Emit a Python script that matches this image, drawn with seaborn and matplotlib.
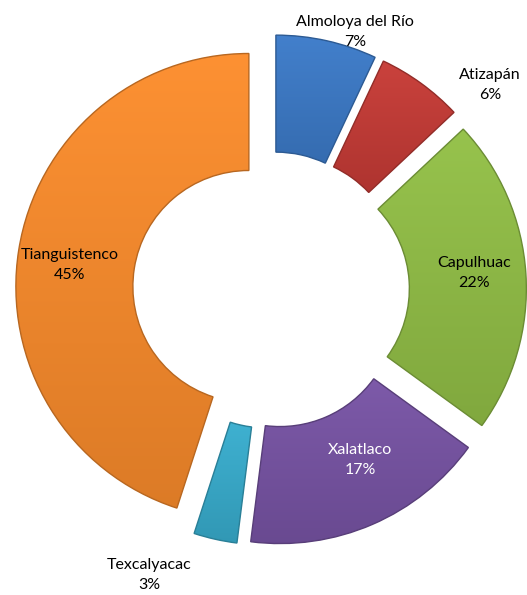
import numpy as np
import matplotlib
matplotlib.use("Agg")
import matplotlib.pyplot as plt
import matplotlib.colors as mcolors
import seaborn as sns

# data
municipios = ["Almoloya del Río", "Atizapán", "Capulhuac", "Xalatlaco", "Texcalyacac", "Tianguistenco"]
porcentajes = [7, 6, 22, 17, 3, 45]
colores = ["#3b78c4", "#c23a35", "#8fbb45", "#7552a1", "#37a9c9", "#f5892b"]
text_colors = ["black", "black", "black", "white", "black", "black"]

# label anchor points (pixel coords, image y down)
label_x = [355, 490, 474, 360, 149, 70]
label_y = [32, 85, 273, 460, 575, 265]

sns.set_theme(style="white")
plt.rcParams["font.family"] = ["Lato", "DejaVu Sans"]

W, H = 527, 595
fig = plt.figure(figsize=(W / 100, H / 100), dpi=100)
ax = fig.add_axes([0, 0, 1, 1])

cx, cy = 271, H - 290
R = 233
wedges, _ = ax.pie(
    porcentajes,
    colors=colores,
    startangle=90,
    counterclock=False,
    radius=R,
    center=(cx, cy),
    explode=[22.4] * len(porcentajes),
    wedgeprops=dict(width=117, linewidth=1.0),
    frame=True,
)
ax.set_xlim(0, W)
ax.set_ylim(0, H)
ax.set_aspect("equal")
ax.axis("off")

# light top-to-bottom shading for each wedge
inv = ax.transData.inverted()
for w, c in zip(wedges, colores):
    base = np.array(mcolors.to_rgb(c))
    light = np.clip(base + 0.03, 0, 1)
    dark = base * 0.9
    w.set_edgecolor(tuple(base * 0.75))
    bb = w.get_path().get_extents(w.get_transform())
    (x0, y0), (x1, y1) = inv.transform([[bb.x0, bb.y0], [bb.x1, bb.y1]])
    t = np.linspace(0, 1, 64)[:, None, None]
    grad = light * (1 - t) + dark * t
    img = ax.imshow(np.repeat(grad, 2, axis=1), extent=(x0, x1, y0, y1),
                    origin="upper", aspect="auto", zorder=w.get_zorder() + 0.1,
                    interpolation="bilinear")
    img.set_clip_path(w)
    w.set_zorder(w.get_zorder() + 0.2)
    w.set_facecolor("none")

ax.set_xlim(0, W)
ax.set_ylim(0, H)

for name, p, lx, ly, tc in zip(municipios, porcentajes, label_x, label_y, text_colors):
    ax.text(lx, H - ly, f"{name}\n{p}%", ha="center", va="center",
            fontsize=11.5, color=tc, linespacing=1.55, zorder=10)

fig.savefig("out.png", dpi=100)
